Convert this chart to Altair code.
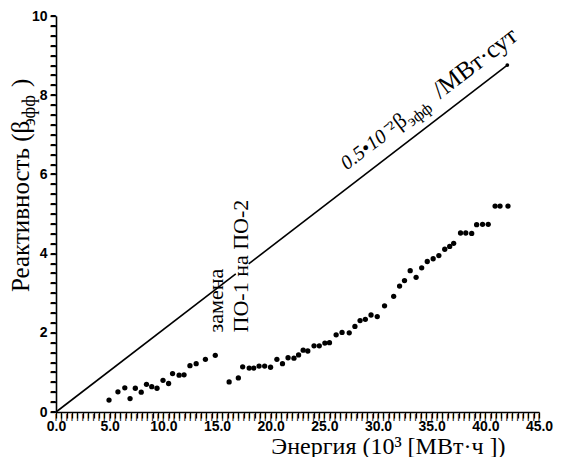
import altair as alt
import pandas as pd

# measured points (energy, 10^3 MWh ; reactivity, beta_eff)
X_VALS = [4.94, 5.77, 6.41, 6.90, 7.39, 7.94, 8.43, 8.92, 9.41, 9.97, 10.49, 10.86,
          11.47, 11.93, 12.48, 13.06, 13.92, 14.84,
          16.13, 16.99, 17.39, 18.00, 18.43, 18.92, 19.44, 19.99, 20.58, 21.10,
          21.62, 22.17, 22.60, 23.03, 23.46, 24.04, 24.53, 25.05, 25.48, 26.10,
          26.65, 27.32, 27.85, 28.33, 28.82, 29.35, 29.93, 30.61, 31.46, 32.01, 32.47,
          33.00, 33.55, 34.07, 34.59, 35.14, 35.67, 36.22, 36.68, 37.05, 37.69,
          38.18, 38.73, 39.19, 39.74, 40.27, 40.91, 41.37, 42.11]
Y_VALS = [0.30, 0.51, 0.61, 0.34, 0.60, 0.50, 0.70, 0.64, 0.60, 0.80, 0.72, 0.97,
          0.93, 0.94, 1.17, 1.22, 1.33, 1.43,
          0.76, 0.86, 1.14, 1.11, 1.11, 1.16, 1.16, 1.13, 1.33, 1.22,
          1.37, 1.36, 1.44, 1.56, 1.54, 1.67, 1.67, 1.74, 1.75, 1.95,
          2.01, 2.00, 2.16, 2.31, 2.34, 2.45, 2.41, 2.68, 2.92, 3.18, 3.32,
          3.57, 3.40, 3.64, 3.80, 3.87, 3.95, 4.11, 4.18, 4.26, 4.52,
          4.52, 4.51, 4.73, 4.74, 4.74, 5.20, 5.20, 5.20]

# reference line 0.5e-2 beta/MW*day (interrupted behind the annotation)
LINE_X = [0.0, 16.75, 17.95, 42.05]
LINE_Y = [0.0, 3.49, 3.74, 8.76]
LINE_SEG = ["a", "a", "b", "b"]

X_TICKS = [i * 0.5 for i in range(91)]
Y_TICKS = [i * 0.25 for i in range(41)]

SERIF = "Liberation Serif"
SANS = "Liberation Sans"

W, H = 483, 396

pts = pd.DataFrame({"x": X_VALS, "y": Y_VALS})
line_df = pd.DataFrame({"x": LINE_X, "y": LINE_Y, "seg": LINE_SEG})
end_df = pd.DataFrame({"x": [LINE_X[-1]], "y": [LINE_Y[-1]]})
xt_df = pd.DataFrame({"x": X_TICKS})
yt_df = pd.DataFrame({"y": Y_TICKS})

xs = alt.Scale(domain=[0, 45], nice=False, zero=False)
ys = alt.Scale(domain=[0, 10], nice=False, zero=False)

x_axis = alt.Axis(
    values=X_TICKS,
    labelExpr="datum.value % 5 == 0 ? format(datum.value, '.1f') : ''",
    title="Энергия (10³ [МВт·ч ])",
    titleAlign="right", titleBaseline="alphabetic", titleX=449, titleY=41,
    titleFontSize=24,
    labelPadding=1, labelOverlap=False,
)
y_axis = alt.Axis(
    values=Y_TICKS,
    labelExpr="datum.value % 2 == 0 ? format(datum.value, 'd') : ''",
    title=None,
    labelPadding=3, labelOverlap=False,
)

XE = alt.X("x:Q", scale=xs, axis=x_axis)
YE = alt.Y("y:Q", scale=ys, axis=y_axis)

points = alt.Chart(pts).mark_circle(color="black", opacity=1, size=28).encode(x=XE, y=YE)

line = alt.Chart(line_df).mark_line(color="black", strokeWidth=1.6).encode(
    x=XE, y=YE, detail="seg:N"
)
end_dot = alt.Chart(end_df).mark_circle(color="black", opacity=1, size=14).encode(x=XE, y=YE)

# tick marks drawn as small glyphs just outside the axis lines
x_ticks = alt.Chart(xt_df).mark_text(
    text="|", font=SANS, fontSize=7, fontWeight="bold", color="black",
    align="center", baseline="top",
).encode(x=XE, y=alt.value(H + 0.5))
y_ticks = alt.Chart(yt_df).mark_text(
    text="–", font=SANS, fontSize=10, fontWeight="bold", color="black",
    align="right", baseline="middle",
).encode(y=YE, x=alt.value(0))

ANG = 322.7


def label(text, x, y, size, angle, style="normal", font=SERIF):
    df = pd.DataFrame({"x": [x], "y": [y], "t": [text]})
    return alt.Chart(df).mark_text(
        align="left", baseline="alphabetic", angle=angle, font=font,
        fontSize=size, fontStyle=style, color="black",
    ).encode(x=XE, y=YE, text="t:N")


ann = [
    label("0.5•10⁻²", 27.1, 6.1, 20, ANG, "italic"),
    label("β", 32.0, 7.12, 22, ANG),
    label("эфф", 33.15, 7.2, 16, ANG),
    label("/МВт·сут", 35.8, 7.9, 25, ANG),
    label("замена", 15.6, 2.01, 22, 270),
    label("ПО-1 на ПО-2", 17.9, 2.01, 22, 270),
]


def ytitle(text, px, py, size):
    df = pd.DataFrame({"t": [text]})
    return alt.Chart(df).mark_text(
        align="left", baseline="alphabetic", angle=270, font=SERIF,
        fontSize=size, color="black",
    ).encode(x=alt.value(px), y=alt.value(py), text="t:N")


ytit = [
    ytitle("Реактивность (β", -27, 276, 25),
    ytitle("эфф", -21, 110, 18),
    ytitle(")", -27, 71, 25),
]

chart = alt.layer(points, line, end_dot, x_ticks, y_ticks, *ann, *ytit).properties(
    width=W, height=H,
    padding={"left": 48, "top": 8, "right": 15, "bottom": 45},
    autosize=alt.AutoSizeParams(type="none"),
    background="white",
).configure_view(stroke=None).configure_axis(
    ticks=True, tickColor="black", tickSize=6, tickWidth=1.3, tickOpacity=1,
    domain=True, domainColor="black", domainWidth=1.6,
    grid=False, labelOverlap=False, labelFlush=False,
    labelFont=SANS, labelFontSize=14, labelFontWeight="bold", labelColor="black",
    titleFont=SERIF, titleFontWeight="normal", titleColor="black",
)

chart.save("out.html", embed_options={"renderer": "svg", "actions": False})
